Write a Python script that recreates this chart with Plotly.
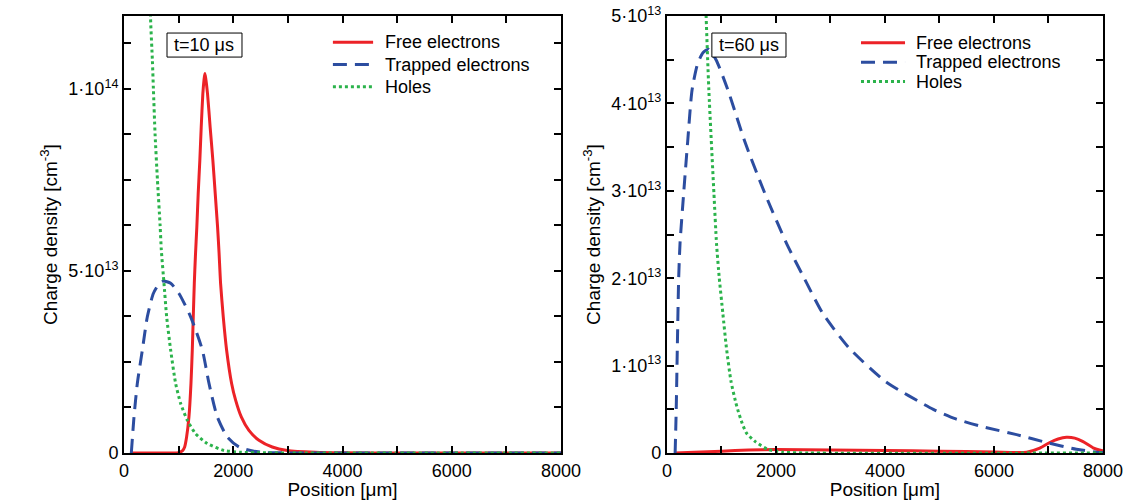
import plotly.graph_objects as go

# ---- Charge carrier profiles, densities in units of 1e13 cm^-3 ----
# t = 10 us
free_x_10 = [130, 500, 1000, 1037, 1075, 1110, 1146, 1189, 1226, 1250, 1268, 1287, 1307,
             1333, 1358, 1388, 1413, 1443, 1465, 1480, 1495, 1529, 1578, 1627, 1670, 1713,
             1740, 1768, 1817, 1878, 1970, 2043, 2147, 2287, 2470, 2714, 2990, 3500, 4000,
             5000, 8000]
free_y_10 = [0, 0, 0.01, 0.03, 0.07, 0.165, 0.44, 0.99, 1.91, 2.83, 3.74, 4.66, 5.4,
             6.2, 7.12, 8.03, 8.93, 9.86, 10.25, 10.42, 10.3, 9.86, 8.93, 8.03, 7.12, 6.2,
             5.5, 4.66, 3.74, 2.83, 1.91, 1.45, 0.99, 0.62, 0.35, 0.165, 0.07, 0.02, 0.005,
             0, 0]

trap_x_10 = [134, 183, 244, 336, 427, 537, 640, 720, 854, 1006, 1220, 1434, 1556, 1708,
             1891, 2104, 2379, 2623, 3000, 4000, 8000]
trap_y_10 = [0, 0.99, 1.91, 2.83, 3.74, 4.38, 4.64, 4.72, 4.66, 4.38, 3.74, 2.83, 1.91, 0.99,
             0.44, 0.165, 0.046, 0.01, 0.003, 0, 0]

hole_x_10 = [440, 485, 520, 538, 569, 612, 661, 683, 732, 781, 854, 945, 1037, 1159, 1311,
             1525, 1830, 2135, 2600, 3000, 8000]
hole_y_10 = [18, 12.0, 10.77, 10.0, 8.75, 7.5, 6.25, 5.58, 4.66, 3.74, 2.83, 1.91, 1.36, 0.9,
             0.53, 0.26, 0.07, 0.02, 0.005, 0, 0]

# t = 60 us
free_x_60 = [150, 500, 1000, 1500, 2000, 3000, 4000, 5000, 6000, 6600, 6841, 7024, 7177,
             7329, 7482, 7634, 7817, 7970, 8000]
free_y_60 = [0, 0.008, 0.02, 0.035, 0.04, 0.035, 0.03, 0.02, 0.012, 0.01, 0.055, 0.12, 0.16,
             0.18, 0.17, 0.13, 0.06, 0.03, 0.027]

trap_x_60 = [150, 170, 190, 215, 240, 310, 380, 460, 560, 660, 760, 900, 1120, 1430, 1790,
             2200, 2518, 2856, 3330, 4006, 4887, 5300, 5800, 6415, 6963, 7512, 7878, 8000]
trap_y_60 = [0, 0.5, 1.2, 2.0, 2.4, 3.0, 3.56, 4.15, 4.45, 4.58, 4.62, 4.5, 4.15, 3.56, 2.98,
             2.39, 2.0, 1.6, 1.21, 0.82, 0.5, 0.39, 0.3, 0.21, 0.12, 0.043, 0.01, 0.005]

hole_x_60 = [650, 712, 769, 861, 910, 960, 1025, 1090, 1175, 1262, 1311, 1380, 1457, 1620,
             1853, 2128, 2600, 8000]
hole_y_60 = [7.0, 5.13, 4.15, 2.98, 2.39, 2.0, 1.6, 1.21, 0.82, 0.58, 0.47, 0.34, 0.23, 0.13,
             0.04, 0.01, 0, 0]

series_names = ["Free electrons", "Trapped electrons", "Holes"]
time_labels = ["t=10 μs", "t=60 μs"]

# ---- Axis ticks ----
x_tickvals = [0, 1000, 2000, 3000, 4000, 5000, 6000, 7000, 8000]
x_ticktext = ["0", "", "2000", "", "4000", "", "6000", "", "8000"]
y1_tickvals = [0, 1.25, 2.5, 3.75, 5, 6.25, 7.5, 8.75, 10, 11.25]
y1_ticktext = ["0", "", "", "", "5·10<sup>13</sup>", "", "", "", "1·10<sup>14</sup>", ""]
y2_tickvals = [0, 0.5, 1, 1.5, 2, 2.5, 3, 3.5, 4, 4.5, 5]
y2_ticktext = ["0", "", "1·10<sup>13</sup>", "", "2·10<sup>13</sup>", "",
               "3·10<sup>13</sup>", "", "4·10<sup>13</sup>", "", "5·10<sup>13</sup>"]

RED = "#ec2227"
BLUE = "#2c4da0"
GREEN = "#2bb34b"
FONT = "Liberation Sans, Arial, sans-serif"

styles = [dict(color=RED, width=3),
          dict(color=BLUE, width=3, dash="14px,8px"),
          dict(color=GREEN, width=3, dash="3px,3px")]

fig = go.Figure()

panels = [
    ("x", "y", [(free_x_10, free_y_10), (trap_x_10, trap_y_10), (hole_x_10, hole_y_10)]),
    ("x2", "y2", [(free_x_60, free_y_60), (trap_x_60, trap_y_60), (hole_x_60, hole_y_60)]),
]
for xa, ya, data in panels:
    for name, (xs, ys), st in zip(series_names, data, styles):
        fig.add_trace(go.Scatter(
            x=xs, y=ys, mode="lines", name=name,
            line=dict(shape="spline", smoothing=0.6, **st),
            xaxis=xa, yaxis=ya, showlegend=False, hoverinfo="skip"))

axis_common = dict(
    showline=True, linecolor="black", linewidth=2, mirror="allticks",
    ticks="inside", ticklen=7, tickwidth=2, tickcolor="black",
    showgrid=False, zeroline=False, automargin=False,
    tickfont=dict(family=FONT, size=18, color="black"),
)
title_font = dict(family=FONT, size=19, color="black")

left_dom = [0, 0.4464]
right_dom = [0.5546, 1]

fig.update_layout(
    width=1145, height=500,
    margin=dict(l=124, r=42, t=16, b=47, autoexpand=False),
    paper_bgcolor="white", plot_bgcolor="white",
    font=dict(family=FONT, size=18, color="black"),
    xaxis=dict(domain=left_dom, range=[0, 8000], tickvals=x_tickvals, ticktext=x_ticktext,
               title=dict(text="Position [μm]", font=title_font, standoff=10), anchor="y",
               **axis_common),
    yaxis=dict(domain=[0, 1], range=[0, 12], tickvals=y1_tickvals, ticktext=y1_ticktext,
               title=dict(text="Charge density [cm<sup>-3</sup>]", font=title_font, standoff=6),
               anchor="x", **axis_common),
    xaxis2=dict(domain=right_dom, range=[0, 8000], tickvals=x_tickvals, ticktext=x_ticktext,
                title=dict(text="Position [μm]", font=title_font, standoff=10), anchor="y2",
                **axis_common),
    yaxis2=dict(domain=[0, 1], range=[0, 5], tickvals=y2_tickvals, ticktext=y2_ticktext,
                title=dict(text="Charge density [cm<sup>-3</sup>]", font=title_font, standoff=6),
                anchor="x2", **axis_common),
    showlegend=False,
)

# Time-stamp boxes inside each panel
for xa, ya, label, x0, x1, xc in [("x", "y", time_labels[0], 0.0984, 0.270, 0.184),
                                  ("x2", "y2", time_labels[1], 0.103, 0.273, 0.188)]:
    fig.add_shape(type="rect", xref=f"{xa} domain", yref=f"{ya} domain",
                  x0=x0, x1=x1, y0=0.906, y1=0.961,
                  line=dict(color="black", width=1), fillcolor="white", layer="above")
    fig.add_annotation(xref=f"{xa} domain", yref=f"{ya} domain", x=xc, y=0.9335,
                       text=label, showarrow=False, xanchor="center", yanchor="middle",
                       font=dict(family=FONT, size=18, color="black"))

# Legend keys for each panel: line sample + series name
legend_layout = [
    ("x", "y", 0.478, 0.570, 0.593, [0.9398, 0.889, 0.838]),
    ("x2", "y2", 0.445, 0.546, 0.5665, [0.939, 0.894, 0.850]),
]
for xa, ya, lx0, lx1, tx, rows in legend_layout:
    for name, st, yy in zip(series_names, styles, rows):
        fig.add_shape(type="line", xref=f"{xa} domain", yref=f"{ya} domain",
                      x0=lx0, x1=lx1, y0=yy, y1=yy,
                      line=dict(color=st["color"], width=st["width"], dash=st.get("dash", "solid")))
        fig.add_annotation(xref=f"{xa} domain", yref=f"{ya} domain", x=tx, y=yy,
                           text=name, showarrow=False, xanchor="left", yanchor="middle",
                           font=dict(family=FONT, size=18, color="black"))

fig.write_html("out.html")
